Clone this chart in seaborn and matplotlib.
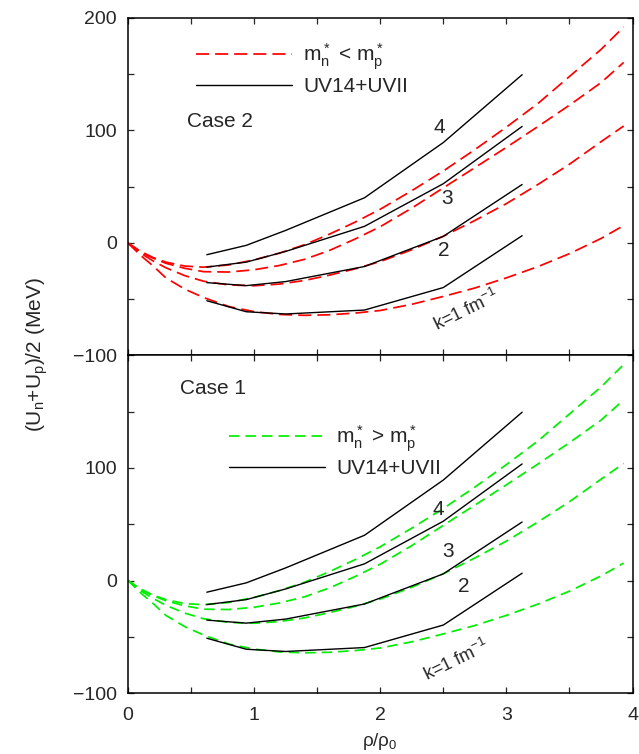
import numpy as np
import pandas as pd
import matplotlib
matplotlib.use("Agg")
import matplotlib.pyplot as plt
from matplotlib.ticker import MultipleLocator
import seaborn as sns

# ---------------------------------------------------------------------------
# Data
# ---------------------------------------------------------------------------
# Densities (rho/rho0) of the UV14+UVII microscopic results
rho_uv = [0.625, 0.9375, 1.25, 1.875, 2.5, 3.125]

# UV14+UVII average potential (MeV) for k = 1, 2, 3, 4 fm^-1
uv_k1 = [-51.3, -61.1, -63.1, -59.6, -39.6, 6.5]
uv_k2 = [-35.2, -37.9, -34.3, -20.9, 5.9, 52.0]
uv_k3 = [-21.4, -17.0, -7.5, 14.8, 52.7, 103.6]
uv_k4 = [-10.4, -2.1, 11.2, 40.2, 89.3, 149.6]

# Density grid of the parametrised potential curves
rho_fit = [0.0, 0.1, 0.2, 0.3, 0.45, 0.6, 0.8, 1.0, 1.2, 1.4, 1.6, 1.8,
           2.0, 2.25, 2.5, 2.75, 3.0, 3.25, 3.5, 3.75, 3.93]

# Parametrised (U_n+U_p)/2 (MeV) for k = 1, 2, 3, 4 fm^-1
fit_k1 = [0.0, -11.0, -20.5, -31.0, -41.0, -48.5, -56.5, -61.0, -63.5, -64.3,
          -63.8, -62.3, -60.0, -54.5, -47.5, -40.0, -31.0, -21.0, -9.5, 4.0, 15.5]
fit_k2 = [0.0, -9.0, -16.0, -22.0, -29.0, -34.0, -37.3, -38.0, -36.5, -33.3,
          -28.5, -23.0, -16.5, -6.0, 6.0, 20.0, 35.0, 52.0, 70.0, 90.0, 104.0]
fit_k3 = [0.0, -8.0, -13.5, -18.0, -22.5, -25.5, -25.8, -23.8, -20.0, -14.5,
          -6.5, 3.5, 14.5, 31.0, 49.0, 67.0, 85.0, 103.5, 122.5, 142.5, 160.5]
fit_k4 = [0.0, -7.5, -13.0, -17.0, -20.5, -21.5, -19.5, -15.0, -9.0, -1.5,
          8.0, 18.5, 30.0, 46.5, 64.0, 83.0, 103.0, 124.0, 148.0, 172.0, 192.0]

uv_curves = [uv_k1, uv_k2, uv_k3, uv_k4]
fit_curves = [fit_k1, fit_k2, fit_k3, fit_k4]

x_ticks = [0, 1, 2, 3, 4]
y_ticks = [-100, 0, 100, 200]

# ---------------------------------------------------------------------------
# Style
# ---------------------------------------------------------------------------
sns.set_theme(style="ticks")
plt.rcParams.update({
    "font.family": ["Liberation Sans", "DejaVu Sans"],
    "mathtext.default": "regular",
    "axes.linewidth": 1.1,
    "xtick.direction": "in",
    "ytick.direction": "in",
    "xtick.major.size": 4.5,
    "ytick.major.size": 4.5,
    "xtick.minor.size": 4.5,
    "ytick.minor.size": 4.5,
    "xtick.major.width": 0.9,
    "ytick.major.width": 0.9,
    "xtick.minor.width": 0.9,
    "ytick.minor.width": 0.9,
    "xtick.labelsize": 14,
    "ytick.labelsize": 14,
    "axes.edgecolor": "black",
})

fig = plt.figure(figsize=(6.39, 7.54), dpi=100)
left, right = 128 / 639, 632.5 / 639
top, mid, bottom = 1 - 18 / 754, 1 - 355.5 / 754, 1 - 693 / 754
ax_top = fig.add_axes([left, mid, right - left, top - mid])
ax_bot = fig.add_axes([left, bottom, right - left, mid - bottom])


def draw_panel(ax, color, dash, legend_label, legend_anchor):
    fit_handle = None
    uv_handle = None
    for ys in fit_curves:
        df = pd.DataFrame({"rho": rho_fit, "U": ys})
        sns.lineplot(data=df, x="rho", y="U", ax=ax, color=color,
                     linewidth=1.25, linestyle=(0, dash), errorbar=None,
                     sort=False)
        fit_handle = ax.get_lines()[-1]
    for ys in uv_curves:
        df = pd.DataFrame({"rho": rho_uv, "U": ys})
        sns.lineplot(data=df, x="rho", y="U", ax=ax, color="black",
                     linewidth=1.0, errorbar=None, sort=False)
        uv_handle = ax.get_lines()[-1]

    ax.set_xlim(0, 4)
    ax.set_ylim(-100, 200)
    ax.xaxis.set_major_locator(MultipleLocator(1))
    ax.xaxis.set_minor_locator(MultipleLocator(0.5))
    ax.yaxis.set_major_locator(MultipleLocator(100))
    ax.yaxis.set_minor_locator(MultipleLocator(50))
    ax.tick_params(which="both", top=True, right=True, bottom=True, left=True)
    ax.tick_params(axis="y", pad=8)
    ax.tick_params(axis="x", pad=10)
    ax.set_xlabel("")
    ax.set_ylabel("")
    for s in ax.spines.values():
        s.set_visible(True)
        s.set_linewidth(1.1)

    ax.legend([fit_handle, uv_handle], [legend_label, "UV14+UVII"],
              loc="upper left", bbox_to_anchor=legend_anchor, frameon=False,
              fontsize=15, handlelength=4.6, handletextpad=0.55,
              labelspacing=0.25, borderpad=0.0, borderaxespad=0.0)


draw_panel(ax_top, "#ff0000", (7.5, 3.5), r"m$_n^*$ < m$_p^*$", (0.135, 0.93))
draw_panel(ax_bot, "#00ee00", (6.0, 3.5), r"m$_n^*$ > m$_p^*$", (0.2, 0.80))

# Top panel: Case 2
ax_top.set_xticks(x_ticks)
ax_top.set_xticklabels([])
ax_top.set_yticks(y_ticks)
ax_top.set_yticklabels(["\u2212100", "0", "100", "200"])
ax_top.text(0.73, 108, "Case 2", fontsize=15, ha="center", va="center")
ax_top.text(2.47, 103, "4", fontsize=15, ha="center", va="center")
ax_top.text(2.53, 40, "3", fontsize=15, ha="center", va="center")
ax_top.text(2.50, -7, "2", fontsize=15, ha="center", va="center")
ax_top.text(2.68, -60, "k=1 fm$^{-1}$", fontsize=13, ha="center",
            va="center", rotation=26)

# Bottom panel: Case 1
ax_bot.set_xticks(x_ticks)
ax_bot.set_xticklabels([str(v) for v in x_ticks])
ax_bot.set_yticks(y_ticks)
ax_bot.set_yticklabels(["\u2212100", "0", "100", ""])
ax_bot.text(0.67, 171, "Case 1", fontsize=15, ha="center", va="center")
ax_bot.text(2.46, 63, "4", fontsize=15, ha="center", va="center")
ax_bot.text(2.54, 26, "3", fontsize=15, ha="center", va="center")
ax_bot.text(2.66, -5, "2", fontsize=15, ha="center", va="center")
ax_bot.text(2.60, -71, "k=1 fm$^{-1}$", fontsize=13, ha="center",
            va="center", rotation=26)

fig.text(380 / 639, 1 - 742 / 754, "\u03c1/\u03c1$_0$", fontsize=13.5,
         ha="center", va="center")
fig.text(37 / 639, 1 - 355 / 754, "(U$_n$+U$_p$)/2 (MeV)", fontsize=15,
         ha="center", va="center", rotation=90)

fig.savefig("out.png", dpi=100)
